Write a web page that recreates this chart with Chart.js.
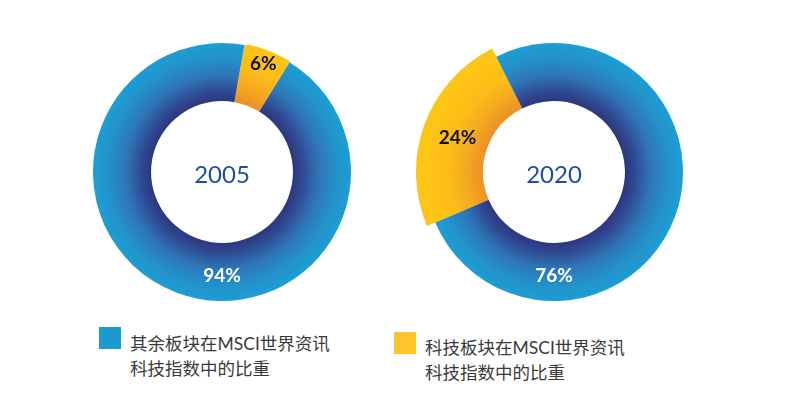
<!DOCTYPE html>
<html>
<head>
<meta charset="utf-8">
<script src="https://cdn.jsdelivr.net/npm/chart.js@4/dist/chart.umd.min.js"></script>
<style>
  html, body { margin: 0; padding: 0; background: #fff; }
  body { width: 800px; height: 395px; position: relative; overflow: hidden; }
  .donut { position: absolute; top: 32px; width: 280px; height: 280px; }
  .legend-item { position: absolute; font-family: "Noto Sans CJK SC", "Lato", sans-serif; font-size: 17.5px; line-height: 24px; color: #3a3a3a; }
  .legend-item .box { position: absolute; width: 22px; height: 22px; }
  .legend-item .txt { position: absolute; white-space: nowrap; }
  .legend-item .txt .lat { font-family: "Lato", sans-serif; }
</style>
</head>
<body>
<div class="donut" style="left:82px"><canvas id="c2005"></canvas></div>
<div class="donut" style="left:414px"><canvas id="c2020"></canvas></div>

<div class="legend-item" style="left:99px;top:327px">
  <div class="box" id="box-other" style="left:0;top:0"></div>
  <div class="txt" id="txt-other" style="left:31px;top:4px"></div>
</div>
<div class="legend-item" style="left:394px;top:332px">
  <div class="box" id="box-tech" style="left:0;top:0"></div>
  <div class="txt" id="txt-tech" style="left:31px;top:3px"></div>
</div>

<script>
// data
const years = ['2005', '2020'];
const categories = ['科技板块在MSCI世界资讯科技指数中的比重', '其余板块在MSCI世界资讯科技指数中的比重'];
const legendLines = {
  tech: ['科技板块在MSCI世界资讯', '科技指数中的比重'],
  other: ['其余板块在MSCI世界资讯', '科技指数中的比重']
};
const techShare = [6, 24];
const otherShare = [94, 76];

// style
const OUTER_R = 129;
const CUTOUT = 0.55;
const rotations = [10, 247];          // where the tech slice sits on each ring
const techExtra = [1, 9];             // tech slice sticks out a bit
const techLabelPos = [0.78, 0.55];    // radial position of the tech label in the band
const otherLabelPos = 0.55;
const blueFlat = '#1b9ad0';
const yellowFlat = '#fdc52a';

function blueStops(g) {
  g.addColorStop(0, '#2b387e');
  g.addColorStop(0.15, '#2f4790');
  g.addColorStop(0.45, '#2e76b8');
  g.addColorStop(0.75, '#2392ca');
  g.addColorStop(1, '#1c9ed4');
}
function yellowStops(g) {
  g.addColorStop(0, '#ec9026');
  g.addColorStop(0.3, '#f4aa1f');
  g.addColorStop(0.6, '#fbbd18');
  g.addColorStop(1, '#fec514');
}

function ringGradient(ctx, idx) {
  const chart = ctx.chart;
  const area = chart.chartArea;
  if (!area) return idx === 0 ? yellowFlat : blueFlat;
  const cx = (area.left + area.right) / 2;
  const cy = (area.top + area.bottom) / 2;
  const g = chart.ctx.createRadialGradient(cx, cy, OUTER_R * CUTOUT, cx, cy, OUTER_R);
  if (idx === 0) yellowStops(g); else blueStops(g);
  return g;
}

const ringLabels = {
  id: 'ringLabels',
  afterDatasetUpdate(chart) {
    const i = chart.options.plugins.ringLabels.index;
    const arc = chart.getDatasetMeta(0).data[0];
    arc.outerRadius = arc.outerRadius + techExtra[i];
  },
  afterDraw(chart) {
    const i = chart.options.plugins.ringLabels.index;
    const meta = chart.getDatasetMeta(0);
    const data = chart.data.datasets[0].data;
    const ctx = chart.ctx;
    const base = meta.data[1];
    const band = base.outerRadius - base.innerRadius;
    ctx.save();
    ctx.textAlign = 'center';
    ctx.textBaseline = 'middle';

    // year in the hole
    ctx.fillStyle = '#1f4f9c';
    ctx.font = '24px Lato, sans-serif';
    ctx.fillText(years[i], base.x, base.y + 3);

    // tech slice label
    const t = meta.data[0];
    const mid = (t.startAngle + t.endAngle) / 2;
    const rt = base.innerRadius + band * techLabelPos[i];
    ctx.fillStyle = '#111';
    ctx.font = 'bold 19px Lato, sans-serif';
    ctx.fillText(data[0] + '%', t.x + Math.cos(mid) * rt, t.y + Math.sin(mid) * rt + 1);

    // other slice label, at the bottom of the ring
    const ro = base.innerRadius + band * otherLabelPos;
    ctx.fillStyle = '#fff';
    ctx.fillText(data[1] + '%', base.x, base.y + ro + 1);
    ctx.restore();
  }
};

function makeDonut(id, i) {
  return new Chart(document.getElementById(id), {
    type: 'doughnut',
    data: {
      labels: categories,
      datasets: [{
        data: [techShare[i], otherShare[i]],
        backgroundColor: ctx => ringGradient(ctx, ctx.dataIndex),
        borderWidth: 0
      }]
    },
    options: {
      responsive: true,
      maintainAspectRatio: false,
      animation: false,
      radius: OUTER_R,
      cutout: (CUTOUT * 100) + '%',
      rotation: rotations[i],
      layout: { padding: 0 },
      plugins: {
        legend: { display: false },
        tooltip: { enabled: false },
        ringLabels: { index: i }
      }
    },
    plugins: [ringLabels]
  });
}

makeDonut('c2005', 0);
makeDonut('c2020', 1);

// legend
function fillLegend(key, color) {
  document.getElementById('box-' + key).style.background = color;
  document.getElementById('txt-' + key).innerHTML = legendLines[key]
    .map(s => s.replace('MSCI', '<span class="lat">MSCI</span>'))
    .join('<br>');
}
fillLegend('other', blueFlat);
fillLegend('tech', yellowFlat);
</script>
</body>
</html>
